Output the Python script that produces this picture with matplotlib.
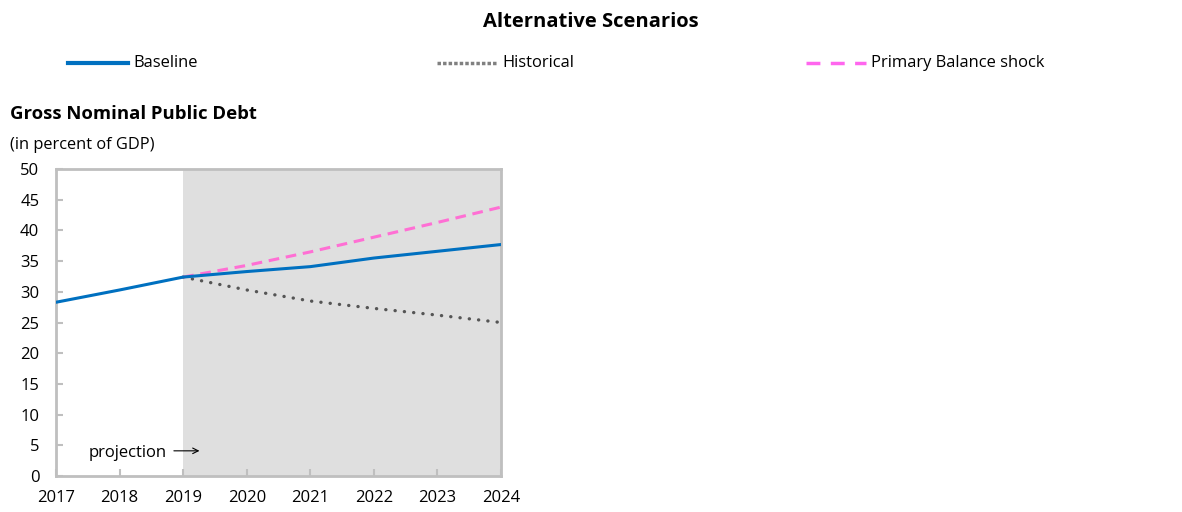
import matplotlib
matplotlib.use("Agg")
import matplotlib.pyplot as plt
from matplotlib.lines import Line2D

years = [2017, 2018, 2019, 2020, 2021, 2022, 2023, 2024]
baseline = [28.3, 30.3, 32.4, 33.3, 34.1, 35.5, 36.6, 37.7]
hist_years = [2019, 2020, 2021, 2022, 2023, 2024]
historical = [32.4, 30.3, 28.5, 27.3, 26.2, 25.0]
shock = [32.4, 34.3, 36.5, 38.9, 41.3, 43.8]
proj_start, proj_end = 2019, 2024

BLUE = "#0070c0"
GRAY = "#555555"
PINK = "#ff6fd4"
FRAME = "#bfbfbf"

plt.rcParams["font.family"] = ["Open Sans", "DejaVu Sans"]

fig = plt.figure(figsize=(11.82, 5.12), dpi=100)
ax = fig.add_axes([0.0474, 0.0703, 0.3765, 0.5996])

ax.axvspan(proj_start, proj_end, color="#dfdfdf", lw=0, zorder=0)
ax.plot(years, baseline, color=BLUE, lw=2.2, zorder=3)
ax.plot(hist_years, historical, color=GRAY, lw=2.4, linestyle=(0, (0.05, 2.75)),
        dash_capstyle="round", zorder=2)
ax.plot(hist_years, shock, color=PINK, lw=2.2, linestyle=(0, (3.5, 2.2)), zorder=2)

ax.set_xlim(2017, 2024)
ax.set_ylim(0, 50)
ax.set_xticks(years)
ax.set_yticks(range(0, 51, 5))
ax.tick_params(direction="in", length=5, width=1.5, color=FRAME, labelsize=12)
ax.tick_params(axis="y", pad=12)
ax.tick_params(axis="x", pad=10)
for s in ax.spines.values():
    s.set_color(FRAME)
    s.set_linewidth(2)

ax.text(2017.52, 3.7, "projection", fontsize=12, va="center", ha="left")
ax.annotate("", xy=(2019.3, 4.1), xytext=(2018.81, 4.1),
            arrowprops=dict(arrowstyle="->", lw=0.8, color="black"))

fig.text(0.5, 0.958, "Alternative Scenarios", ha="center", va="center",
         fontsize=14.5, fontweight="bold")
fig.text(0.0085, 0.778, "Gross Nominal Public Debt", ha="left", va="center",
         fontsize=13.3, fontweight="bold")
fig.text(0.0085, 0.717, "(in percent of GDP)", ha="left", va="center", fontsize=11.8)

# legend row
legend_items = [
    (68, "Baseline", dict(color=BLUE, lw=3)),
    (437, "Historical", dict(color="#808080", lw=2.5, linestyle=(0, (1, 0.6)))),
    (806, "Primary Balance shock", dict(color="#ff66ee", lw=2.5, linestyle=(0, (4, 3)))),
]
W, H = 1182, 512
ly = 1 - 63 / H
for x0, label, style in legend_items:
    fig.add_artist(Line2D([x0 / W, (x0 + 60) / W], [ly, ly], transform=fig.transFigure, **style))
    fig.text((x0 + 65) / W, ly, label, ha="left", va="center", fontsize=11.9)

fig.savefig("out.png", dpi=100)
